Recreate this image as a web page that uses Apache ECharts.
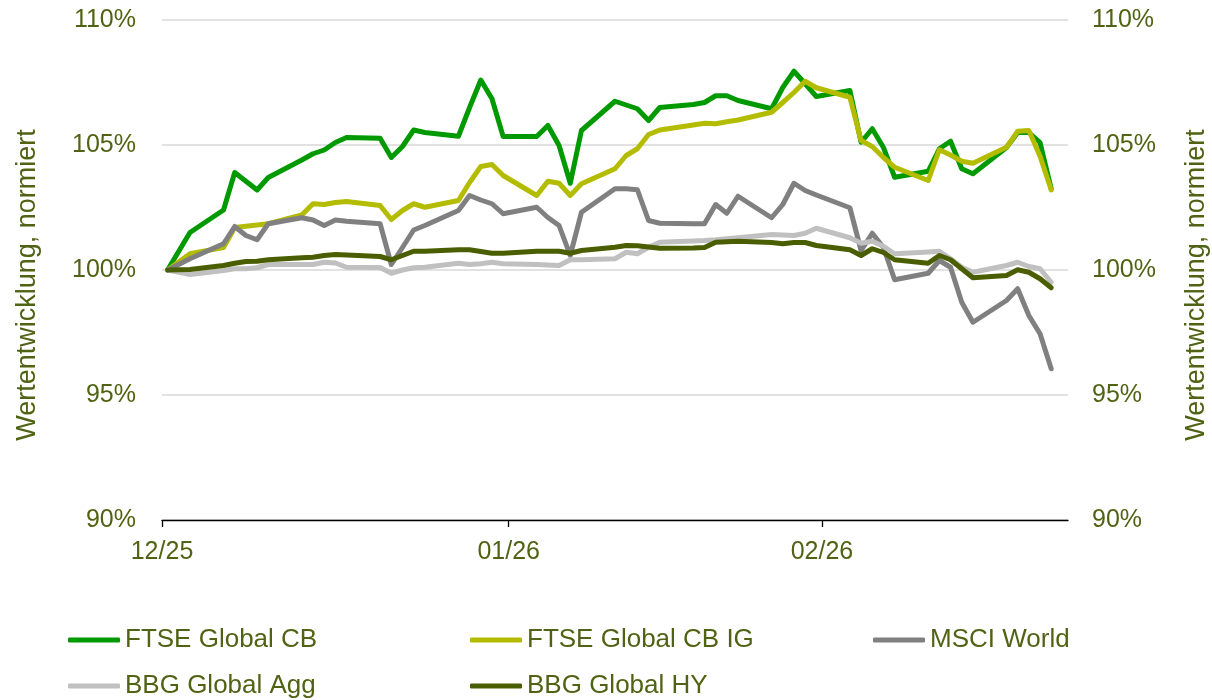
<!DOCTYPE html>
<html>
<head>
<meta charset="utf-8">
<script src="https://cdn.jsdelivr.net/npm/echarts@6/dist/echarts.min.js"></script>
<style>
html,body{margin:0;padding:0;background:#fff;}
#chart{width:1212px;height:700px;}
</style>
</head>
<body>
<div id="chart"></div>
<script>
// Business days (data points)
const dates = [
 '2025-12-31','2026-01-02',
 '2026-01-05','2026-01-06','2026-01-07','2026-01-08','2026-01-09',
 '2026-01-12','2026-01-13','2026-01-14','2026-01-15','2026-01-16',
 '2026-01-19','2026-01-20','2026-01-21','2026-01-22','2026-01-23',
 '2026-01-26','2026-01-27','2026-01-28','2026-01-29','2026-01-30',
 '2026-02-02','2026-02-03','2026-02-04','2026-02-05','2026-02-06',
 '2026-02-09','2026-02-10','2026-02-11','2026-02-12','2026-02-13',
 '2026-02-16','2026-02-17','2026-02-18','2026-02-19','2026-02-20',
 '2026-02-23','2026-02-24','2026-02-25','2026-02-26','2026-02-27',
 '2026-03-02','2026-03-03','2026-03-04','2026-03-05','2026-03-06',
 '2026-03-09','2026-03-10','2026-03-11','2026-03-12','2026-03-13',
 '2026-03-16','2026-03-17','2026-03-18','2026-03-19','2026-03-20'
];
const ftseCB = [
 100, 101.5,
 102.4, 103.9, 103.55, 103.2, 103.7,
 104.4, 104.65, 104.8, 105.1, 105.3,
 105.27, 104.5, 104.94, 105.6, 105.5,
 105.35, 106.5, 107.6, 106.85, 105.34,
 105.34, 105.78, 104.98, 103.47, 105.58,
 106.75, 106.6, 106.45, 105.98, 106.5,
 106.62, 106.7, 106.97, 106.97, 106.78,
 106.45, 107.3, 107.95, 107.45, 106.94,
 107.18, 105.11, 105.65, 104.9, 103.71,
 103.95, 104.85, 105.15, 104.05, 103.85,
 104.9, 105.5, 105.5, 105.1, 103.25
];
const ftseCBIG = [
 100, 100.65,
 100.9, 101.7, 101.75, 101.8, 101.85,
 102.2, 102.65, 102.62, 102.7, 102.74,
 102.58, 102.02, 102.38, 102.65, 102.51,
 102.78, 103.5, 104.14, 104.22, 103.78,
 102.98, 103.55, 103.47, 102.98, 103.45,
 104.05, 104.58, 104.85, 105.42, 105.6,
 105.8, 105.87, 105.85, 105.93, 106.0,
 106.31, 106.7, 107.1, 107.55, 107.29,
 106.91, 105.18, 104.94, 104.5, 104.11,
 103.58, 104.81, 104.6, 104.35, 104.27,
 104.91, 105.55, 105.58, 104.55, 103.2
];
const msciWorld = [
 100, 100.45,
 101.05, 101.74, 101.38, 101.21, 101.85,
 102.09, 102.0, 101.78, 102.0, 101.95,
 101.85, 100.22, 100.9, 101.6, 101.78,
 102.38, 102.98, 102.8, 102.65, 102.25,
 102.51, 102.1, 101.78, 100.58, 102.31,
 103.25, 103.25, 103.21, 101.98, 101.87,
 101.85, 101.85, 102.62, 102.27, 102.95,
 102.09, 102.62, 103.47, 103.18, 103.0,
 102.49, 100.78, 101.47, 100.9, 99.61,
 99.87, 100.38, 100.11, 98.71, 97.91,
 98.78, 99.25, 98.18, 97.45, 96.05
];
const bbgAgg = [
 100, 99.82,
 99.98, 100.05, 100.05, 100.09, 100.22,
 100.22, 100.22, 100.31, 100.28, 100.11,
 100.1, 99.87, 100.0, 100.09, 100.11,
 100.27, 100.22, 100.25, 100.31, 100.25,
 100.22, 100.2, 100.18, 100.41, 100.41,
 100.45, 100.71, 100.65, 100.91, 101.11,
 101.16, 101.18, 101.21, 101.25, 101.29,
 101.42, 101.4, 101.38, 101.47, 101.67,
 101.29, 101.07, 101.15, 100.95, 100.65,
 100.72, 100.75, 100.45, 100.11, 99.91,
 100.18, 100.31, 100.14, 100.05, 99.51
];
const bbgHY = [
 100, 100.02,
 100.18, 100.27, 100.34, 100.35, 100.41,
 100.49, 100.51, 100.58, 100.62, 100.6,
 100.54, 100.41, 100.58, 100.75, 100.75,
 100.81, 100.81, 100.74, 100.67, 100.67,
 100.75, 100.75, 100.75, 100.67, 100.78,
 100.91, 100.98, 100.97, 100.92, 100.87,
 100.88, 100.9, 101.11, 101.13, 101.15,
 101.1, 101.05, 101.1, 101.1, 100.98,
 100.81, 100.58, 100.85, 100.7, 100.41,
 100.27, 100.58, 100.41, 100.05, 99.69,
 99.78, 100.01, 99.91, 99.65, 99.29
];
const seriesNames = ['FTSE Global CB','FTSE Global CB IG','MSCI World','BBG Global Agg','BBG Global HY'];
const xTickDates = ['2025-12-31','2026-01-31','2026-02-28'];
const xTickLabels = ['12/25','01/26','02/26'];
const xEndDate = '2026-03-22';
const yTicks = [90, 95, 100, 105, 110];
const axisTitle = 'Wertentwicklung, normiert';

const colors = ['#009a00','#b4bc00','#808080','#c0c0c0','#4a5e00'];
const textColor = '#506314';
const FONT = '"Liberation Sans", Arial, sans-serif';

const DAY = 86400000;
const t0 = Date.parse(dates[0] + 'T00:00:00Z');
const dayOf = d => Math.round((Date.parse(d + 'T00:00:00Z') - t0) / DAY);
const xTickVals = xTickDates.map(dayOf);
const xMax = dayOf(xEndDate);
const allSeries = [ftseCB, ftseCBIG, msciWorld, bbgAgg, bbgHY];

const chart = echarts.init(document.getElementById('chart'), null, {renderer: 'canvas'});

const yAxisBase = {
  type: 'value', min: yTicks[0], max: yTicks[yTicks.length-1], interval: 5,
  axisLine: {show: false}, axisTick: {show: false},
  axisLabel: {color: textColor, fontSize: 25, fontFamily: FONT, formatter: v => v + '%'}
};

const legendPos = [[68, 627], [470, 627], [873, 627], [68, 673], [470, 673]];

const option = {
  animation: false,
  backgroundColor: '#fff',
  grid: {left: 162, right: 144, top: 20, bottom: 180},
  xAxis: {
    type: 'value', min: 0, max: xMax,
    splitLine: {show: false},
    axisLine: {show: true, onZero: false, lineStyle: {color: '#000', width: 1.3}},
    axisTick: {show: true, customValues: xTickVals, length: 7, inside: false, lineStyle: {color: '#000', width: 1.3}},
    axisLabel: {
      customValues: xTickVals, color: textColor, fontSize: 25, fontFamily: FONT, margin: 20,
      formatter: v => { const i = xTickVals.indexOf(Math.round(v)); return i >= 0 ? xTickLabels[i] : ''; }
    }
  },
  yAxis: [
    Object.assign({}, yAxisBase, {position: 'left', axisLabel: Object.assign({}, yAxisBase.axisLabel, {margin: 26}),
      splitLine: {show: true, lineStyle: {color: '#d9d9d9', width: 1.5}}}),
    Object.assign({}, yAxisBase, {position: 'right', axisLabel: Object.assign({}, yAxisBase.axisLabel, {margin: 24}),
      splitLine: {show: false}})
  ],
  legend: seriesNames.map((n, i) => ({
    data: [n], left: legendPos[i][0], top: legendPos[i][1], padding: 0,
    itemWidth: 52, itemHeight: 5, icon: 'roundRect', itemGap: 0,
    textStyle: {color: textColor, fontSize: 26, fontFamily: FONT}
  })),
  graphic: [
    {type: 'text', x: 28, y: 285, rotation: Math.PI/2,
     style: {text: axisTitle, fill: textColor, font: '27px ' + FONT, align: 'center', verticalAlign: 'middle'}},
    {type: 'text', x: 1197, y: 285, rotation: Math.PI/2,
     style: {text: axisTitle, fill: textColor, font: '27px ' + FONT, align: 'center', verticalAlign: 'middle'}}
  ],
  series: seriesNames.map((n, i) => ({
    name: n, type: 'line', yAxisIndex: 0, showSymbol: false, symbol: 'none',
    color: colors[i],
    lineStyle: {width: 5, color: colors[i], cap: 'round', join: 'round'},
    data: dates.map((d, k) => [dayOf(d) + 0.5, allSeries[i][k]]),
    z: 2 + i
  }))
};
chart.setOption(option);
</script>
</body>
</html>
